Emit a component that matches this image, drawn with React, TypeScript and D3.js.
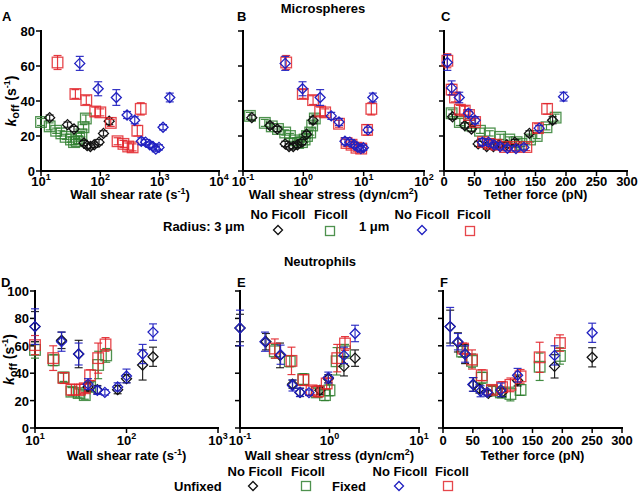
import React from 'react';
import * as d3 from 'd3';

// ---------- data: [x, koff, error] ----------
// Microspheres, wall shear rate (s^-1)
const mRate3NoFicoll = [[14,30.5,1.5],[28,26.5,1.5],[36,24,1.5],[53,16,1.5],[60,14.5,1.5],[68,14,1.5],[79,15,1.5],[95,16.5,1.5],[113,21.5,1.5],[141,28.5,2]];
const mRate3Ficoll = [[10,28,2],[14,25.5,2],[18,23,1.5],[22,21.5,1.5],[26,19.5,1.5],[32,18,1.5],[36,16.5,1.5],[40,17,1.5],[44,18.5,1.5],[48,21,1.5],[52,25,1.5],[57,30,2]];
const mRate1NoFicoll = [[45,61.5,4],[92,47,4],[186,42,4.5],[282,32,2],[380,29,2],[490,17,2],[580,16.5,1.5],[680,15,1.5],[770,14,1.5],[860,12.5,1.5],[975,13.5,1.5],[1140,25,1.5],[1480,42,2.5]];
const mRate1Ficoll = [[19,62,4],[38,44,2.5],[58,40.5,2.5],[82,34,2.5],[100,33.5,2],[150,27.5,2],[195,17,2],[245,15.5,2],[295,14,2],[350,13.5,2],[420,23,3],[480,35.5,3.5]];
// Microspheres, wall shear stress (dyn/cm2)
const mStress3NoFicoll = [[0.14,30.5,1.5],[0.28,26,1.5],[0.37,24,1.5],[0.5,15.5,1.5],[0.58,14,1.5],[0.68,14,1.5],[0.8,15,1.5],[0.95,16.5,1.5],[1.13,21,1.5],[1.45,29,2]];
const mStress3Ficoll = [[0.13,31.5,2],[0.23,27.5,2],[0.3,25.5,1.5],[0.38,24,1.5],[0.5,22,1.5],[0.6,20,1.5],[0.72,17.5,1.5],[0.82,16,1.5],[0.95,16.5,1.5],[1.05,18,1.5],[1.15,20,1.5],[1.3,22,1.5],[1.4,26,1.5],[1.55,30,2]];
const mStress1NoFicoll = [[0.5,61.5,4],[0.97,47,4],[1.9,42,4.5],[2.9,31.5,2],[3.9,28,2],[4.9,17,2],[5.9,16.5,1.5],[7,15,1.5],[8,13.5,1.5],[9,12.8,1.5],[9.9,13.3,1.5],[11.8,23.5,1.5],[14.2,42,2.5]];
const mStress1Ficoll = [[0.52,62,4],[0.98,44,2.5],[1.45,40.5,2.5],[1.9,34,2.5],[2.3,33.5,2],[3.9,27,2],[5.2,16,2],[6.3,15,2],[7.6,13.3,2],[9.1,12.8,2],[11.4,23.5,3],[13.4,35.5,3.5]];
// Microspheres, tether force (pN)
const mForce3NoFicoll = [[14,31,1.5],[34,26,1.5],[45,24,1.5],[56,15.5,1.5],[70,14,1.5],[81,14,1.5],[90,15,1.5],[103,15,1.5],[116,16.5,1.5],[140,21.5,1.5],[178,29,2]];
const mForce3Ficoll = [[12.5,33,2],[26,28,2],[43,26,1.5],[59,23,1.5],[75,21.5,1.5],[92,19.5,1.5],[107,18,1.5],[119,16.5,1.5],[127,15.5,1.5],[141,18,1.5],[152,20,1.5],[168,25,1.5],[183,30.5,2]];
const mForce1NoFicoll = [[5.5,62,4.5],[12.5,47.5,4],[25,42,3],[40,33,2],[51,29,2],[63,16.5,2],[73,16.5,1.5],[82,15,1.5],[92,14,1.5],[104,13,1.5],[118,12.8,1.5],[131,13.5,1.5],[156,24.5,1.5],[196,42.5,2.5]];
const mForce1Ficoll = [[5.5,63,4],[12.5,46.5,3],[18,42,2.5],[26,35,2.5],[34,34.5,2.5],[41,32,2],[51,28,2],[64,16.5,2],[75,15.5,2],[86,15,2],[100,13.7,2],[116,13.7,2],[135,13.7,2],[154,24.5,2.5],[169,35.5,3]];
// Neutrophils, wall shear rate
const nRateUnfixedNoFicoll = [[10,74,11],[19.5,64,6],[30,54,10],[38,30,3],[48,28,3],[80,28,3],[100,36,3],[150,46,11],[195,52,7]];
const nRateUnfixedFicoll = [[10,57,6],[16,49.5,4],[20.5,37,3],[25,26.5,3],[30,25.5,3],[35,24,3],[40,30,3],[49,46,10],[60,53,5]];
const nRateFixedNoFicoll = [[10,74,13],[19.5,63,7],[30,54,8],[38,32,4],[48,27.5,3],[58,26,2],[80,30,3],[100,38,5],[150,54,7],[195,70,6]];
const nRateFixedFicoll = [[10,60.5,7],[15.8,51,9],[20.5,36.5,4],[25,28,4],[31,28,4],[35,29,3],[40,38.5,4],[49,51,11],[59,61,5]];
// Neutrophils, wall shear stress
const nStressUnfixedNoFicoll = [[0.1,73,10],[0.195,63,6],[0.28,53,9],[0.386,32,3],[0.47,26,3],[0.78,27.5,3],[0.97,36,3],[1.45,45,7],[1.93,51,6]];
const nStressUnfixedFicoll = [[0.245,56,5],[0.36,48.7,4],[0.51,35.7,4],[0.72,26,3],[0.89,24,4],[1.0,27.5,4],[1.2,48.7,10],[1.49,56,5]];
const nStressFixedNoFicoll = [[0.1,73,13],[0.19,63,7],[0.284,53.5,7],[0.386,31,4],[0.467,26,3],[0.59,25.8,2],[0.97,36.8,4],[1.45,53,6],[1.93,69,6]];
const nStressFixedFicoll = [[0.245,58,7],[0.376,49,10],[0.51,35,4],[0.63,27.5,3],[0.75,26.7,4],[0.93,32.5,4],[1.22,51,10],[1.49,61.7,5]];
// Neutrophils, tether force
const nForceUnfixedNoFicoll = [[12,74,12],[25,62.5,7],[37,54,7],[51,31.8,5],[61,28.5,3],[76,25.3,2],[99,26,3],[125,34.7,4],[187,45,8.5],[250,51.6,7]];
const nForceUnfixedFicoll = [[32,55.8,4],[48.6,49,5],[65,36.7,4],[82,27.3,3],[97,26,4],[113,24.8,5],[130,27.8,4],[162,44.7,10],[196,52.6,6]];
const nForceFixedNoFicoll = [[12,74,14],[25,63,6],[37,54,6],[50,31.8,5],[63,26.8,4],[74,26,2],[97,27.8,5],[125,38.5,5],[187,53,7],[250,69.5,7]];
const nForceFixedFicoll = [[33.5,58,4],[48.6,50,7],[65,38.5,4],[82,27.8,3],[99,29.8,4],[113,31.5,5],[130,37.7,5],[162,51.6,11],[196,62,6]];

// ticks
const microRateTicks = [10, 100, 1000, 10000];
const microStressTicks = [0.1, 1, 10, 100];
const neutRateTicks = [10, 100, 1000];
const neutStressTicks = [0.1, 1, 10];
const forceTicks = [0, 50, 100, 150, 200, 250, 300];
const microKoffTicks = [0, 20, 40, 60, 80];
const neutKoffTicks = [0, 20, 40, 60, 80, 100];

const BLACK = '#111111';
const GREEN = '#2f7f2f';
const BLUE = '#2020c0';
const RED = '#e2262c';
const FONT = '"Liberation Sans", Arial, Helvetica, sans-serif';

type Pt = number[];
type Series = { data: Pt[]; color: string; shape: 'diamond' | 'square' };

function Marker({ x, y, shape, color, r }: { x: number; y: number; shape: string; color: string; r: number }) {
  if (shape === 'diamond') {
    return <path d={`M${x},${y - r}L${x + r},${y}L${x},${y + r}L${x - r},${y}Z`} fill="none" stroke={color} strokeWidth={1.3} />;
  }
  return <rect x={x - r} y={y - r} width={2 * r} height={2 * r} fill="none" stroke={color} strokeWidth={1.3} strokeOpacity={0.85} />;
}

function Pow10({ v }: { v: number }) {
  const e = Math.round(Math.log10(v));
  return (
    <>
      <tspan>10</tspan>
      <tspan dy={-6} fontSize={9}>{String(e)}</tspan>
    </>
  );
}

function Panel(props: {
  letter: string; lx: number; ly: number;
  xType: 'log' | 'linear'; xDomain: [number, number]; xRange: [number, number];
  yDomain: [number, number]; yRange: [number, number];
  xTicks: number[]; yTicks: number[]; showYLabels: boolean;
  xTitle: React.ReactNode; series: Series[]; yTitleX: number;
  tickDy: number; titleDy: number;
}) {
  const { xType, xDomain, xRange, yDomain, yRange } = props;
  const x = xType === 'log' ? d3.scaleLog().domain(xDomain).range(xRange) : d3.scaleLinear().domain(xDomain).range(xRange);
  const y = d3.scaleLinear().domain(yDomain).range(yRange);
  const x0 = xRange[0];
  const yb = yRange[0];
  const yt = yRange[1];
  return (
    <g>
      <text x={props.lx} y={props.ly} fontSize={13} fontWeight="bold">{props.letter}</text>
      {/* axes */}
      <line x1={x0} x2={x0} y1={yt - 1} y2={yb + 1} stroke="#000" strokeWidth={2} />
      <line x1={x0 - 1} x2={xRange[1] + 1} y1={yb} y2={yb} stroke="#000" strokeWidth={2} />
      {props.yTicks.map((t) => (
        <g key={'y' + t}>
          <line x1={x0 - 5} x2={x0} y1={y(t)} y2={y(t)} stroke="#000" strokeWidth={1.5} />
          {props.showYLabels && (
            <text x={x0 - 6} y={y(t) + 5} textAnchor="end" fontSize={13} fontWeight="bold">{t}</text>
          )}
        </g>
      ))}
      {props.xTicks.map((t) => (
        <g key={'x' + t}>
          <line x1={x(t)} x2={x(t)} y1={yb} y2={yb + 5} stroke="#000" strokeWidth={1.5} />
          <text x={x(t)} y={yb + props.tickDy} textAnchor="middle" fontSize={13} fontWeight="bold">
            {xType === 'log' ? <Pow10 v={t} /> : t}
          </text>
        </g>
      ))}
      <text x={(xRange[0] + xRange[1]) / 2} y={yb + props.titleDy} textAnchor="middle" fontSize={13} fontWeight="bold">{props.xTitle}</text>
      {props.showYLabels && (
        <text transform={`translate(${props.yTitleX},${(yb + yt) / 2}) rotate(-90)`} textAnchor="middle" fontSize={14} fontWeight="bold">
          <tspan fontStyle="italic">k</tspan>
          <tspan dy={3} fontSize={11}>off</tspan>
          <tspan dy={-3}> (s</tspan>
          <tspan dy={-6} fontSize={9}>-1</tspan>
          <tspan dy={6}>)</tspan>
        </text>
      )}
      {props.series.map((s, si) => (
        <g key={si}>
          {s.data.map((p, i) => {
            const cx = x(p[0]);
            const cy = y(p[1]);
            const t = y(p[1] + p[2]);
            const b = y(p[1] - p[2]);
            return (
              <g key={i}>
                <line x1={cx} x2={cx} y1={t} y2={b} stroke={s.color} strokeWidth={1.2} strokeOpacity={0.9} />
                <line x1={cx - 4} x2={cx + 4} y1={t} y2={t} stroke={s.color} strokeWidth={1.2} strokeOpacity={0.9} />
                <line x1={cx - 4} x2={cx + 4} y1={b} y2={b} stroke={s.color} strokeWidth={1.2} strokeOpacity={0.9} />
                <Marker x={cx} y={cy} shape={s.shape} color={s.color} r={s.shape === 'diamond' ? 5 : 5.3} />
              </g>
            );
          })}
        </g>
      ))}
    </g>
  );
}

const rateTitle = (
  <>
    <tspan>Wall shear rate (s</tspan>
    <tspan dy={-5} fontSize={9}>-1</tspan>
    <tspan dy={5}>)</tspan>
  </>
);
const stressTitle = (
  <>
    <tspan>Wall shear stress (dyn/cm</tspan>
    <tspan dy={-5} fontSize={9}>2</tspan>
    <tspan dy={5}>)</tspan>
  </>
);

export default function App() {
  const microY: [number, number] = [171, 31];
  const neutY: [number, number] = [428, 291];
  const ms = (a: Pt[], b: Pt[], c: Pt[], d: Pt[]): Series[] => [
    { data: b, color: GREEN, shape: 'square' },
    { data: a, color: BLACK, shape: 'diamond' },
    { data: d, color: RED, shape: 'square' },
    { data: c, color: BLUE, shape: 'diamond' },
  ];
  return (
    <svg width={640} height={494} style={{ position: 'absolute', left: 0, top: 0, background: '#fff' }} fontFamily={FONT}>
      <rect width={640} height={494} fill="#fff" />
      <text x={323} y={13} textAnchor="middle" fontSize={13} fontWeight="bold">Microspheres</text>
      <text x={320} y={266} textAnchor="middle" fontSize={13} fontWeight="bold">Neutrophils</text>

      <Panel letter="A" lx={2} ly={21} xType="log" xDomain={[10, 10000]} xRange={[41, 219]} yDomain={[0, 80]} yRange={microY}
        xTicks={microRateTicks} yTicks={microKoffTicks} showYLabels yTitleX={16} xTitle={rateTitle} tickDy={15} titleDy={28}
        series={ms(mRate3NoFicoll, mRate3Ficoll, mRate1NoFicoll, mRate1Ficoll)} />
      <Panel letter="B" lx={237} ly={21} xType="log" xDomain={[0.1, 100]} xRange={[243, 424]} yDomain={[0, 80]} yRange={microY}
        xTicks={microStressTicks} yTicks={microKoffTicks} showYLabels={false} yTitleX={0} xTitle={stressTitle} tickDy={15} titleDy={28}
        series={ms(mStress3NoFicoll, mStress3Ficoll, mStress1NoFicoll, mStress1Ficoll)} />
      <Panel letter="C" lx={441} ly={21} xType="linear" xDomain={[0, 300]} xRange={[444, 627]} yDomain={[0, 80]} yRange={microY}
        xTicks={forceTicks} yTicks={microKoffTicks} showYLabels={false} yTitleX={0} xTitle="Tether force (pN)" tickDy={15} titleDy={28}
        series={ms(mForce3NoFicoll, mForce3Ficoll, mForce1NoFicoll, mForce1Ficoll)} />

      <Panel letter="D" lx={1} ly={287} xType="log" xDomain={[10, 1000]} xRange={[35, 218]} yDomain={[0, 100]} yRange={neutY}
        xTicks={neutRateTicks} yTicks={neutKoffTicks} showYLabels yTitleX={14} xTitle={rateTitle} tickDy={17} titleDy={32}
        series={ms(nRateUnfixedNoFicoll, nRateUnfixedFicoll, nRateFixedNoFicoll, nRateFixedFicoll)} />
      <Panel letter="E" lx={237} ly={287} xType="log" xDomain={[0.1, 10]} xRange={[240, 419]} yDomain={[0, 100]} yRange={neutY}
        xTicks={neutStressTicks} yTicks={neutKoffTicks} showYLabels={false} yTitleX={0} xTitle={stressTitle} tickDy={17} titleDy={32}
        series={ms(nStressUnfixedNoFicoll, nStressUnfixedFicoll, nStressFixedNoFicoll, nStressFixedFicoll)} />
      <Panel letter="F" lx={440} ly={287} xType="linear" xDomain={[0, 300]} xRange={[443, 622]} yDomain={[0, 100]} yRange={neutY}
        xTicks={forceTicks} yTicks={neutKoffTicks} showYLabels={false} yTitleX={0} xTitle="Tether force (pN)" tickDy={17} titleDy={32}
        series={ms(nForceUnfixedNoFicoll, nForceUnfixedFicoll, nForceFixedNoFicoll, nForceFixedFicoll)} />

      {/* legend microspheres */}
      <g fontSize={13} fontWeight="bold">
        <text x={163} y={231}>Radius: 3 μm</text>
        <text x={278} y={219} textAnchor="middle">No Ficoll</text>
        <text x={331} y={219} textAnchor="middle">Ficoll</text>
        <text x={359} y={231}>1 μm</text>
        <text x={422} y={219} textAnchor="middle">No Ficoll</text>
        <text x={474} y={219} textAnchor="middle">Ficoll</text>
      </g>
      <Marker x={278} y={230} shape="diamond" color={BLACK} r={4.5} />
      <Marker x={330} y={231} shape="square" color={GREEN} r={4.5} />
      <Marker x={422} y={230} shape="diamond" color={BLUE} r={4.5} />
      <Marker x={470} y={231} shape="square" color={RED} r={4.5} />

      {/* legend neutrophils */}
      <g fontSize={13} fontWeight="bold">
        <text x={174} y={491}>Unfixed</text>
        <text x={255} y={476} textAnchor="middle">No Ficoll</text>
        <text x={308} y={476} textAnchor="middle">Ficoll</text>
        <text x={332} y={491}>Fixed</text>
        <text x={400} y={476} textAnchor="middle">No Ficoll</text>
        <text x={452} y={476} textAnchor="middle">Ficoll</text>
      </g>
      <Marker x={253} y={486} shape="diamond" color={BLACK} r={4.5} />
      <Marker x={306} y={486} shape="square" color={GREEN} r={4.5} />
      <Marker x={399} y={486} shape="diamond" color={BLUE} r={4.5} />
      <Marker x={448} y={486} shape="square" color={RED} r={4.5} />
    </svg>
  );
}
